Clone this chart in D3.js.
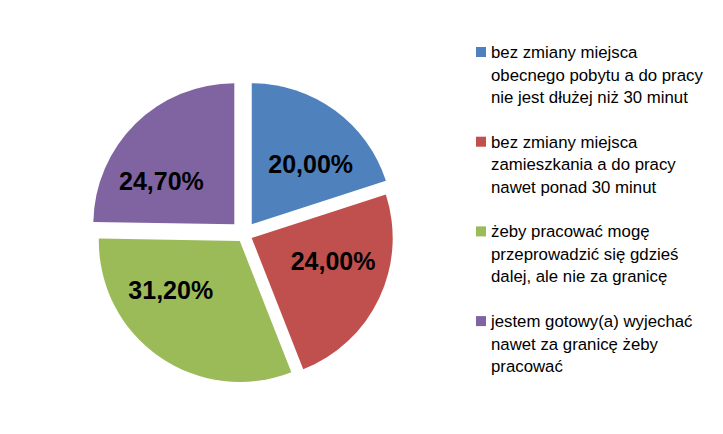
<!DOCTYPE html>
<html><head><meta charset="utf-8">
<script src="https://cdn.jsdelivr.net/npm/d3@7/dist/d3.min.js"></script>
<style>body{margin:0;background:#fff}</style>
</head><body>
<svg id="c" width="723" height="434"></svg>
<script>
const categories = [
  ["bez zmiany miejsca", "obecnego pobytu a do pracy", "nie jest dłużej niż 30 minut"],
  ["bez zmiany miejsca", "zamieszkania a do pracy", "nawet ponad 30 minut"],
  ["żeby pracować mogę", "przeprowadzić się gdzieś", "dalej, ale nie za granicę"],
  ["jestem gotowy(a) wyjechać", "nawet za granicę żeby", "pracować"]
];
const values = [20.0, 24.0, 31.2, 24.7];
const labels = ["20,00%", "24,00%", "31,20%", "24,70%"];
const explosionPct = [9, 5.8, 5.6, 10.1];
const colors = ["#4F81BD", "#C0504D", "#9BBB59", "#8064A2"];

const svg = d3.select("#c");
const cx = 244.3, cy = 234.5, r = 141;
const fontSize = 25;
const pie = d3.pie().sort(null).value(d => d)(values);
const arc = d3.arc().innerRadius(0).outerRadius(r);

const g = svg.append("g").attr("transform", `translate(${cx},${cy})`);
const slices = g.selectAll("g.s").data(pie).join("g").attr("class", "s")
  .attr("transform", (d, i) => {
    const a = (d.startAngle + d.endAngle) / 2, e = r * explosionPct[i] / 100;
    return `translate(${e * Math.sin(a)},${-e * Math.cos(a)})`;
  });
slices.append("path").attr("d", arc).attr("fill", (d, i) => colors[i]);

// best-fit label: box centre at fixed distance, equal margins to both radial edges
const D = r * 0.6;
slices.append("text")
  .attr("text-anchor", "middle").attr("dy", "0.358em")
  .attr("font-family", "Liberation Sans, Arial, sans-serif")
  .attr("font-weight", "bold").attr("font-size", fontSize).attr("fill", "#000")
  .text((d, i) => labels[i])
  .each(function(d) {
    const hw = this.getComputedTextLength() / 2, hh = fontSize * 0.42;
    const a0 = d.startAngle, a1 = d.endAngle;
    const n0 = [Math.cos(a0), Math.sin(a0)], n1 = [-Math.cos(a1), -Math.sin(a1)];
    const margin = (p, n) => p[0]*n[0] + p[1]*n[1] - (Math.abs(n[0])*hw + Math.abs(n[1])*hh);
    const pt = phi => [D * Math.sin(phi), -D * Math.cos(phi)];
    const f = phi => { const p = pt(phi); return margin(p, n0) - margin(p, n1); };
    let lo = a0, hi = a1;
    for (let k = 0; k < 60; k++) {
      const m = (lo + hi) / 2;
      if (f(m) < 0) lo = m; else hi = m;
    }
    const p = pt((lo + hi) / 2);
    d3.select(this).attr("x", p[0]).attr("y", p[1]);
  });

const leg = svg.append("g");
const lineH = 22.5, step = 89.7, y0 = 58;
categories.forEach((lines, i) => {
  const y = y0 + i * step;
  leg.append("rect").attr("x", 476).attr("y", y - 11).attr("width", 10).attr("height", 10).attr("fill", colors[i]);
  const t = leg.append("text").attr("x", 491).attr("y", y)
    .attr("font-family", "Liberation Sans, Arial, sans-serif").attr("font-size", 16.8).attr("fill", "#000");
  lines.forEach((l, j) => t.append("tspan").attr("x", 491).attr("y", y + j * lineH).text(l));
});
</script>
</body></html>
